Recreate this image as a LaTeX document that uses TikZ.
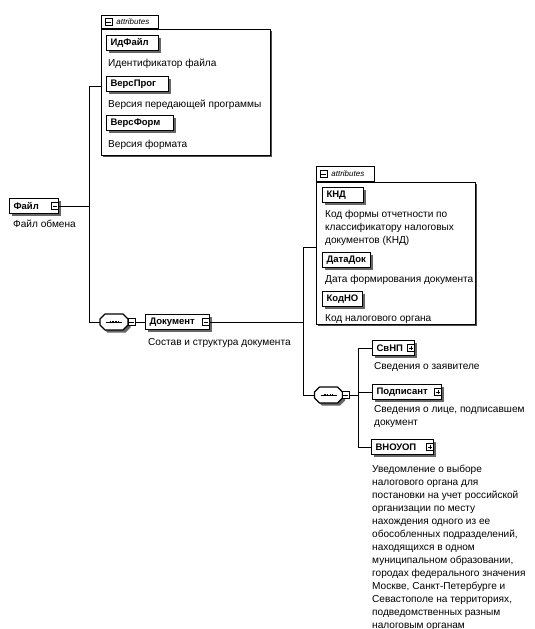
\documentclass[tikz,border=0pt]{standalone}
\usepackage{fontspec}
\setmainfont{Liberation Sans}
\setsansfont{Liberation Sans}
\usetikzlibrary{shadows,calc}
\begin{document}
\begin{tikzpicture}[x=1pt,y=-1pt,
  conn/.style={line width=0.9pt},
  elem/.style={draw, line width=1.1pt, fill=white, minimum height=15pt, inner xsep=4pt, inner ysep=0pt,
    anchor=west, align=left, font=\bfseries\fontsize{9.5}{10}\selectfont,
    drop shadow={shadow xshift=2.5pt, shadow yshift=-2.5pt, fill=black!60, opacity=1}},
  desc/.style={anchor=north west, inner sep=0pt, align=left, font=\fontsize{10.1}{13}\selectfont},
  ibox/.style={draw, line width=0.6pt, fill=white, minimum size=7pt, inner sep=0pt},
  minusi/.style={ibox, path picture={\draw[line width=0.6pt] ([xshift=1.4pt]path picture bounding box.west) -- ([xshift=-1.4pt]path picture bounding box.east);}},
  plusi/.style={ibox, path picture={\draw[line width=0.6pt] ([xshift=1.4pt]path picture bounding box.west) -- ([xshift=-1.4pt]path picture bounding box.east) ([yshift=-1.4pt]path picture bounding box.north) -- ([yshift=1.4pt]path picture bounding box.south);}},
  abox/.style={draw, line width=0.8pt, fill=white, anchor=north west, inner sep=0pt,
    drop shadow={shadow xshift=1.3pt, shadow yshift=-1.3pt, fill=black!70, opacity=1}},
  atab/.style={draw, line width=0.8pt, fill=white, anchor=south west, inner xsep=0pt, inner ysep=0pt,
    align=left, font=\itshape\fontsize{8}{9}\selectfont},
  seqanchor/.style={rectangle, minimum width=28pt, minimum height=16pt, inner sep=0pt},
  octo/.style={line width=1.1pt, line join=round},
  octoshadow/.style={fill=black!60}
]
\useasboundingbox (0,0) rectangle (535,629);

% ---- root element
\node[elem, text width=41pt] (file) at (9,206) {Файл};
\node[minusi] (filei) at ($(file.east)+(-4,0)$) {};
\node[desc] (filed) at (13,219.5) {Файл обмена};

% ---- top attributes group
\node[abox, minimum width=169pt, minimum height=126pt] (ab1) at (101,29) {};
\node[atab, minimum height=13pt, text width=57pt] (tab1) at (ab1.north west) {\hspace*{15pt}attributes};
\node[minusi] (tab1i) at ($(tab1.west)+(7.5,0)$) {};

\node[elem, text width=44pt] (idf) at (106,43) {ИдФайл};
\node[desc] (idfd) at (108,58.5) {Идентификатор файла};
\node[elem, text width=54pt] (vprog) at (106,84) {ВерсПрог};
\node[desc] (vprogd) at (108,99.5) {Версия передающей программы};
\node[elem, text width=59pt] (vform) at (106,123) {ВерсФорм};
\node[desc] (vformd) at (108,139.5) {Версия формата};

% ---- trunk
\coordinate (tA) at (89,86);
\coordinate (tB) at (89,322);
\draw[conn] (tA) -- (tB);
\draw[conn] (filei.east) -- (filei.east -| tA);
\draw[conn] (tA) -- (tA -| ab1.west);

% ---- sequence 1 and Документ
\node[seqanchor] (seq1) at (114,322) {};
\begin{scope}[shift={(seq1.center)}]
  \fill[octoshadow, shift={(2.5,2.5)}] (-14,-3) -- (-9,-8) -- (9,-8) -- (14,-3) -- (14,3) -- (9,8) -- (-9,8) -- (-14,3) -- cycle;
  \draw[octo, fill=white] (-14,-3) -- (-9,-8) -- (9,-8) -- (14,-3) -- (14,3) -- (9,8) -- (-9,8) -- (-14,3) -- cycle;
  \draw[line width=0.6pt] (-8,0) -- (8,0);
  \draw[line width=2pt, dash pattern=on 1.6pt off 1.2pt] (-4.5,0) -- (4.5,0);
\end{scope}
\node[minusi] (seq1i) at (131.5,322) {};
\draw[conn] (tB) -- (seq1.west);
\node[elem, text width=56pt] (doc) at (145,322) {Документ};
\node[minusi] (doci) at ($(doc.east)+(-4,0)$) {};
\node[desc] (docd) at (148,338.5) {Состав и структура документа};
\draw[conn] (seq1i.east) -- (doc.west);

% ---- right trunk
\coordinate (rA) at (303,247);
\coordinate (rB) at (303,395);
\draw[conn] (doci.east) -- (doci.east -| rA);
\draw[conn] (rA) -- (rB);

% ---- right attributes group
\node[abox, minimum width=159pt, minimum height=142pt] (ab2) at (316,182) {};
\node[atab, minimum height=15pt, text width=58pt] (tab2) at (ab2.north west) {\hspace*{15pt}attributes};
\node[minusi] (tab2i) at ($(tab2.west)+(7.5,0)$) {};
\draw[conn] (rA) -- (rA -| ab2.west);

\node[elem, text width=33pt] (knd) at (322,195) {КНД};
\node[desc] (kndd) at (325,209.5) {Код формы отчетности по\\классификатору налоговых\\документов (КНД)};
\node[elem, text width=40pt] (dd) at (322,260) {ДатаДок};
\node[desc] (ddd) at (325,274.5) {Дата формирования документа};
\node[elem, text width=32pt] (kno) at (322,299) {КодНО};
\node[desc] (knod) at (325,314.5) {Код налогового органа};

% ---- sequence 2
\node[seqanchor] (seq2) at (328.5,395) {};
\begin{scope}[shift={(seq2.center)}]
  \fill[octoshadow, shift={(2.5,2.5)}] (-14,-3) -- (-9,-8) -- (9,-8) -- (14,-3) -- (14,3) -- (9,8) -- (-9,8) -- (-14,3) -- cycle;
  \draw[octo, fill=white] (-14,-3) -- (-9,-8) -- (9,-8) -- (14,-3) -- (14,3) -- (9,8) -- (-9,8) -- (-14,3) -- cycle;
  \draw[line width=0.6pt] (-8,0) -- (8,0);
  \draw[line width=2pt, dash pattern=on 1.6pt off 1.2pt] (-4.5,0) -- (4.5,0);
\end{scope}
\node[minusi] (seq2i) at (345.5,395) {};
\draw[conn] (rB) -- (seq2.west);

\coordinate (bA) at (358,348);
\coordinate (bB) at (358,447);
\draw[conn] (seq2i.east) -- (seq2i.east -| bA);
\draw[conn] (bA) -- (bB);

\node[elem, text width=34pt] (svnp) at (372,348) {СвНП};
\node[plusi] (svnpi) at ($(svnp.east)+(-4,0)$) {};
\node[desc] (svnpd) at (374,362.5) {Сведения о заявителе};
\node[elem, text width=61pt] (podp) at (372,392) {Подписант};
\node[plusi] (podpi) at ($(podp.east)+(-4,0)$) {};
\node[desc] (podpd) at (374,405.5) {Сведения о лице, подписавшем\\документ};
\node[elem, text width=54pt] (vn) at (371,447) {ВНОУОП};
\node[plusi] (vni) at ($(vn.east)+(-4,0)$) {};
\node[desc] (vnd) at (372,464.5) {Уведомление о выборе\\налогового органа для\\постановки на учет российской\\организации по месту\\нахождения одного из ее\\обособленных подразделений,\\находящихся в одном\\муниципальном образовании,\\городах федерального значения\\Москве, Санкт-Петербурге и\\Севастополе на территориях,\\подведомственных разным\\налоговым органам};

\draw[conn] (bA) -- (svnp.west);
\draw[conn] (podp.west -| bA) -- (podp.west);
\draw[conn] (bB) -- (vn.west);
\end{tikzpicture}
\end{document}
